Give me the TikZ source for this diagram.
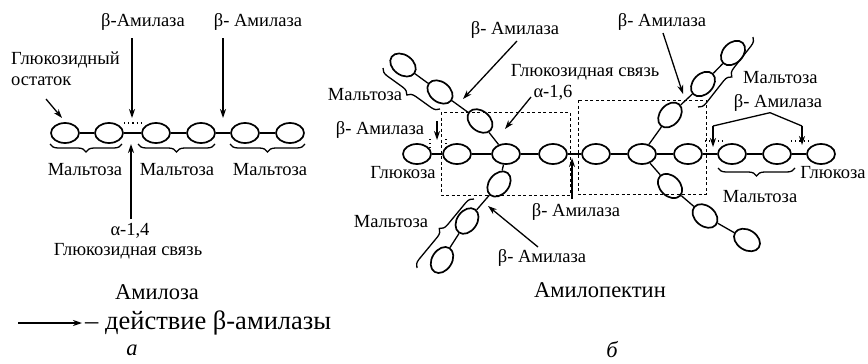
\documentclass[tikz,border=0pt]{standalone}
\usepackage{fontspec}
\setmainfont{Liberation Serif}
\usetikzlibrary{arrows.meta,shapes.geometric,decorations.pathreplacing}
\begin{document}
\begin{tikzpicture}[x=1pt,y=-1pt,
  glc/.style={draw,ellipse,line width=1.7pt,minimum width=28pt,minimum height=20pt,inner sep=0pt},
  bond/.style={line width=1.3pt},
  lbl/.style={font=\fontsize{18.5}{21}\selectfont,inner sep=1pt},
  ttl/.style={font=\fontsize{22.5}{25}\selectfont,inner sep=1pt},
  act/.style={line width=1.3pt,-{Stealth[length=9pt,width=6pt]}},
  dsh/.style={line width=0.8pt,dash pattern=on 3pt off 2.5pt},
  dts/.style={line width=1.1pt,dash pattern=on 1.2pt off 3pt},
  brc/.style={line width=1.3pt,decorate,decoration={brace,amplitude=8pt}},
  brm/.style={line width=1.3pt,decorate,decoration={brace,mirror,amplitude=8pt}}
]
\useasboundingbox (0,0) rectangle (868,364);

% ================= a) Amylose =================
\foreach \i/\x in {1/65,2/109,3/156,4/201,5/245,6/290}
  \node[glc] (L\i) at (\x,133) {};
\draw[bond] (L1) -- (L2);
\draw[bond] (L2) -- (L3);
\draw[bond] (L3) -- (L4);
\draw[bond] (L4) -- (L5);
\draw[bond] (L5) -- (L6);
\draw[dts] (124,123) -- (143,123);

\node[lbl] (b1) at (143,22) {β-Амилаза};
\node[lbl] (b2) at (258,22) {β- Амилаза};
\coordinate (b1s) at (132,38);  \coordinate (b1t) at (132,118);
\coordinate (b2s) at (223,38);  \coordinate (b2t) at (223,118);
\draw[act] (b1s) -- (b1t);
\draw[act] (b2s) -- (b2t);

\node[lbl,align=left,anchor=north west] (gres) at (10,51) {Глюкозидный\\остаток};
\coordinate (gra) at (46,99); \coordinate (grb) at (62,118);
\draw[act] (gra) -- (grb);

\draw[brm] (50,144) -- (122,144);
\draw[brm] (138,144) -- (215,144);
\draw[brm] (230,144) -- (305,144);
\node[lbl] (m1) at (85,170) {Мальтоза};
\node[lbl] (m2) at (177,170) {Мальтоза};
\node[lbl] (m3) at (270,170) {Мальтоза};

\coordinate (u1s) at (131,219); \coordinate (u1t) at (131,144);
\draw[act] (u1s) -- (u1t);
\node[lbl] (a14) at (130,231) {α-1,4};
\node[lbl] (gs1) at (128,251) {Глюкозидная связь};

\node[ttl] (amy) at (157,292) {Амилоза};

\coordinate (lga) at (18,323); \coordinate (lgb) at (82,323);
\draw[act] (lga) -- (lgb);
\node[anchor=west,inner sep=1pt,font=\fontsize{26.5}{30}\selectfont] (lgt) at (84,323) {– действие β-амилазы};
\node[ttl,font=\fontsize{22.5}{25}\selectfont\itshape] (pa) at (132,350) {а};

% ================= b) Amylopectin =================
\draw[dsh] (441,112) rectangle (570,195);
\draw[dsh] (578,100) rectangle (706,194);

\foreach \i/\x in {1/417,2/457,3/506,4/553,5/596,6/642,7/688,8/732,9/777,10/821}
  \node[glc] (R\i) at (\x,154) {};
\foreach \i/\j in {1/2,2/3,3/4,4/5,5/6,6/7,7/8,8/9,9/10}
  \draw[bond] (R\i) -- (R\j);

% upper-left branch
\node[glc,rotate=-40] (UL1) at (480,121) {};
\node[glc,rotate=-38] (UL2) at (440,92) {};
\node[glc,rotate=-36] (UL3) at (403,65) {};
\draw[bond] (R3) -- (UL1);
\draw[bond] (UL1) -- (UL2);
\draw[bond] (UL2) -- (UL3);
% lower-left branch
\node[glc,rotate=52] (LL1) at (499,184) {};
\node[glc,rotate=55] (LL2) at (467,221) {};
\node[glc,rotate=58] (LL3) at (442,260) {};
\draw[bond] (R3) -- (LL1);
\draw[bond] (LL1) -- (LL2);
\draw[bond] (LL2) -- (LL3);
% upper-right branch
\node[glc,rotate=50] (UR1) at (670,115) {};
\node[glc,rotate=47] (UR2) at (703,84) {};
\node[glc,rotate=46] (UR3) at (733,53) {};
\draw[bond] (R6) -- (UR1);
\draw[bond] (UR1) -- (UR2);
\draw[bond] (UR2) -- (UR3);
% lower-right branch
\node[glc,rotate=-45] (LR1) at (670,186) {};
\node[glc,rotate=-40] (LR2) at (705,216) {};
\node[glc,rotate=-32] (LR3) at (747,240) {};
\draw[bond] (R6) -- (LR1);
\draw[bond] (LR1) -- (LR2);
\draw[bond] (LR2) -- (LR3);

% braces
\draw[brc] (440,109) -- (383,68);
\draw[brc] (417,268) -- (474,199);
\draw[brc] (753,37) -- (698,107);
\draw[brm] (718,168) -- (795,168);

% labels
\node[lbl] (tb) at (515,30) {β- Амилаза};
\coordinate (tbs) at (517,41); \coordinate (tbt) at (463,99);
\draw[act] (tbs) -- (tbt);

\node[lbl] (trb) at (662,22) {β- Амилаза};
\coordinate (trbs) at (663,33); \coordinate (trbt) at (683,94);
\draw[act] (trbs) -- (trbt);

\node[lbl] (gs2) at (585,72) {Глюкозидная связь};
\node[lbl] (a16) at (553,93) {α-1,6};
\coordinate (a16s) at (531,97); \coordinate (a16t) at (505,129);
\draw[act] (a16s) -- (a16t);

\node[lbl] (mtl) at (365,95) {Мальтоза};
\node[lbl] (lmb) at (380,130) {β- Амилаза};
\coordinate (lmbs) at (437,121); \coordinate (lmbt) at (437,140);
\draw[act] (lmbs) -- (lmbt);
\draw[dts] (430,139) -- (430,148);
\draw[dts] (446,139) -- (446,148);

\node[lbl] (gl1) at (403,173) {Глюкоза};
\node[lbl] (mll) at (391,222) {Мальтоза};

\node[lbl] (mbb) at (576,212) {β- Амилаза};
\coordinate (ups) at (572,199); \coordinate (upt) at (572,158);
\draw[act] (ups) -- (upt);

\node[lbl] (bb) at (542,258) {β- Амилаза};
\coordinate (bbs) at (538,247); \coordinate (bbt) at (488,206);
\draw[act] (bbs) -- (bbt);

\node[lbl,anchor=west] (mur) at (742,78) {Мальтоза};
\node[lbl] (rb) at (778,103) {β- Амилаза};
\coordinate (rbl) at (713,126); \coordinate (rblt) at (713,147);
\coordinate (rbr) at (802,126); \coordinate (rbrt) at (802,145);
\draw[line width=1.3pt] (rb.south) ++(-8,0) coordinate (rbj1) (rbj1) -- (rbl);
\draw[act] (rbl) -- (rblt);
\draw[line width=1.3pt] (rbj1) -- (rbr);
\draw[act] (rbr) -- (rbrt);
\draw[dts] (705,141) -- (722,141);
\draw[dts] (791,141) -- (808,141);

\node[lbl] (gl2) at (833,173) {Глюкоза};
\node[lbl] (mlr) at (760,197) {Мальтоза};

\node[ttl] (amp) at (600,290) {Амилопектин};
\node[ttl,font=\fontsize{22.5}{25}\selectfont\itshape] (pb) at (612,350) {б};
\end{tikzpicture}
\end{document}
